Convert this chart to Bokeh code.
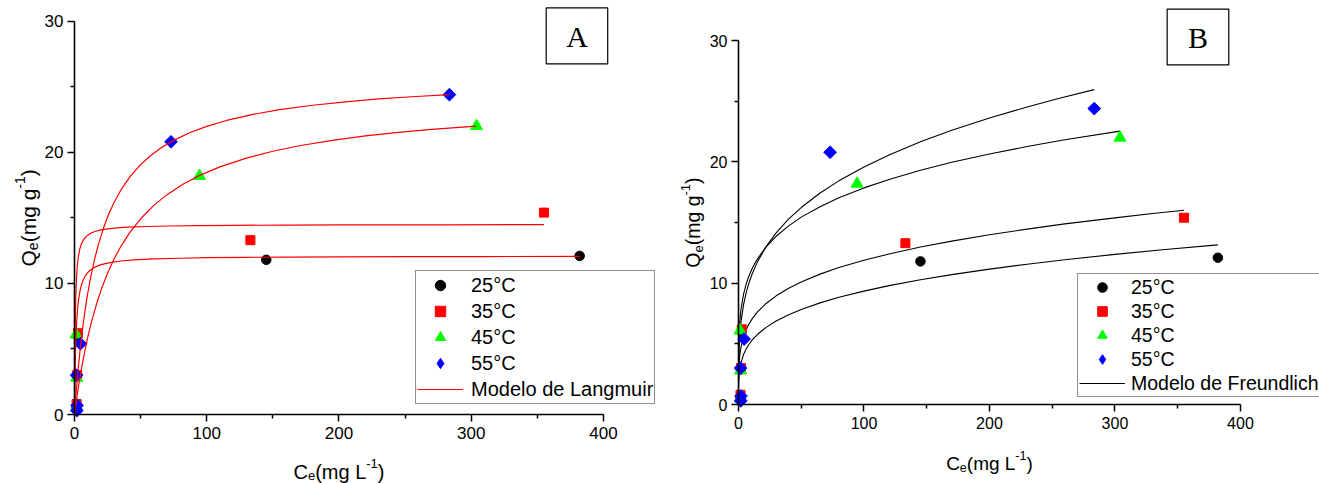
from bokeh.plotting import figure
from bokeh.layouts import row
from bokeh.models import Range1d, Legend, LegendItem, BoxAnnotation, Label, FixedTicker
from bokeh.embed import file_html
from bokeh.resources import INLINE
import math

# ---------------- data ----------------
series_labels = ["25°C", "35°C", "45°C", "55°C"]

ce_25 = [1.5, 1.8, 2.2, 145, 382]
qe_25 = [0.5, 2.9, 6.0, 11.8, 12.1]
ce_35 = [1.6, 2.0, 2.6, 133, 355]
qe_35 = [0.8, 3.0, 6.2, 13.3, 15.4]
ce_45 = [1.4, 1.7, 1.2, 94.5, 304]
qe_45 = [0.5, 2.8, 6.1, 18.2, 22.0]
ce_55 = [1.8, 2.0, 1.6, 4.5, 73, 283.5]
qe_55 = [0.3, 0.7, 3.0, 5.4, 20.8, 24.4]

# Langmuir model curves
lang_x_25 = [0, 0.15, 0.3, 0.5, 0.7, 0.95, 1.2, 1.6, 2, 2.5, 3, 4, 5, 6.5, 8, 10, 12, 15, 20, 27, 35, 45, 60, 80, 100, 130, 160, 200, 250, 310, 382]
lang_y_25 = [0, 1.36, 2.45, 3.60, 4.51, 5.40, 6.10, 6.96, 7.61, 8.22, 8.68, 9.34, 9.79, 10.24, 10.54, 10.82, 11.02, 11.22, 11.43, 11.59, 11.71, 11.79, 11.87, 11.92, 11.96, 11.99, 12.01, 12.03, 12.04, 12.05, 12.06]
lang_x_35 = [0, 0.1, 0.2, 0.35, 0.5, 0.7, 1, 1.3, 1.6, 2, 2.5, 3, 4, 5, 6.5, 8, 10, 13, 16, 20, 25, 32, 40, 55, 70, 95, 120, 160, 200, 280, 355]
lang_y_35 = [0, 2.07, 3.63, 5.34, 6.59, 7.81, 9.06, 9.92, 10.55, 11.15, 11.69, 12.08, 12.61, 12.95, 13.27, 13.49, 13.68, 13.86, 13.98, 14.08, 14.16, 14.23, 14.29, 14.34, 14.38, 14.41, 14.43, 14.45, 14.46, 14.47, 14.48]
lang_x_45 = [0, 1, 2, 3.5, 5, 7.5, 10, 13, 17, 21, 25, 30, 35, 42, 50, 60, 70, 82, 95, 110, 130, 150, 170, 195, 220, 245, 270, 304]
lang_y_45 = [0, 0.75, 1.46, 2.44, 3.34, 4.69, 5.88, 7.12, 8.54, 9.75, 10.78, 11.88, 12.81, 13.91, 14.93, 15.95, 16.77, 17.57, 18.26, 18.89, 19.56, 20.08, 20.50, 20.91, 21.25, 21.52, 21.75, 22.00]
lang_x_55 = [0, 0.5, 1, 2, 3, 4.5, 6, 8, 10, 12.5, 15, 18, 22, 26, 30, 35, 42, 50, 57, 65, 75, 87, 100, 115, 135, 155, 180, 205, 230, 255, 283.5]
lang_y_55 = [0, 0.70, 1.36, 2.58, 3.69, 5.17, 6.46, 7.96, 9.24, 10.60, 11.76, 12.94, 14.24, 15.31, 16.19, 17.11, 18.14, 19.06, 19.70, 20.31, 20.91, 21.49, 21.98, 22.43, 22.89, 23.25, 23.59, 23.85, 24.07, 24.24, 24.40]

# Freundlich model curves
frd_x_25 = [0.05, 0.2, 0.5, 1, 2, 4, 6, 8, 11, 15, 22, 30, 40, 50, 65, 80, 100, 120, 145, 170, 200, 230, 260, 300, 340, 382]
frd_y_25 = [1.35, 1.92, 2.42, 2.89, 3.45, 4.12, 4.56, 4.91, 5.33, 5.77, 6.36, 6.88, 7.40, 7.84, 8.38, 8.84, 9.35, 9.80, 10.28, 10.71, 11.16, 11.57, 11.93, 12.38, 12.78, 13.16]
frd_x_35 = [0.05, 0.2, 0.5, 1, 2, 4, 6, 8, 11, 15, 22, 30, 40, 50, 65, 80, 100, 120, 145, 170, 200, 230, 260, 300, 330, 355]
frd_y_35 = [1.99, 2.76, 3.42, 4.03, 4.74, 5.58, 6.14, 6.57, 7.08, 7.61, 8.33, 8.96, 9.59, 10.10, 10.75, 11.29, 11.89, 12.41, 12.98, 13.47, 14.00, 14.46, 14.89, 15.39, 15.75, 16.02]
frd_x_45 = [0.05, 0.2, 0.5, 1, 2, 4, 6, 8, 11, 15, 22, 30, 40, 50, 65, 80, 100, 120, 145, 170, 200, 230, 260, 304]
frd_y_45 = [3.62, 4.84, 5.87, 6.79, 7.86, 9.08, 9.89, 10.51, 11.24, 11.99, 13.00, 13.87, 14.73, 15.45, 16.31, 17.04, 17.86, 18.55, 19.31, 19.97, 20.66, 21.27, 21.83, 22.54]
frd_x_55 = [0.05, 0.2, 0.5, 1, 2, 4, 6, 8, 11, 15, 22, 30, 40, 50, 65, 80, 100, 120, 145, 170, 200, 230, 255, 283.5]
frd_y_55 = [2.52, 3.66, 4.69, 5.65, 6.81, 8.21, 9.17, 9.90, 10.80, 11.74, 13.02, 14.15, 15.30, 16.24, 17.44, 18.44, 19.59, 20.57, 21.66, 22.62, 23.63, 24.53, 25.23, 25.96]

x_ticks = [0, 100, 200, 300, 400]
x_minor = [50, 150, 250, 350]
y_ticks = [0, 10, 20, 30]
y_minor = [5, 15, 25]

FONT = "Liberation Sans"
# approximate advance widths (em) of Liberation Sans, used to lay out sub/superscripts
CHAR_W = {"Q": 0.778, "C": 0.722, "e": 0.556, "(": 0.333, ")": 0.333, "m": 0.833,
          "g": 0.556, " ": 0.278, "L": 0.556, "-": 0.333, "1": 0.556}


def text_width(s, fs):
    return sum(CHAR_W.get(c, 0.556) for c in s) * fs


def rich_label(p, pieces, x, y, base_off, fs_main, fs_small, vertical, sub=5, sup=8):
    """pieces: list of (text, kind) with kind 'n', 'sub', 'sup'."""
    widths = [text_width(t, fs_small if k != "n" else fs_main) for t, k in pieces]
    total = sum(widths)
    pos = -total / 2.0
    for (t, k), w in zip(pieces, widths):
        fs = fs_main if k == "n" else fs_small
        shift = {"n": 0, "sub": -sub, "sup": sup}[k]
        if vertical:
            lab = Label(x=x, y=y, x_offset=base_off - shift, y_offset=pos, text=t, angle=math.pi / 2,
                        text_font=FONT, text_font_size=f"{fs}px", text_color="black",
                        text_align="left", text_baseline="alphabetic")
        else:
            lab = Label(x=x, y=y, x_offset=pos, y_offset=base_off + shift, text=t,
                        text_font=FONT, text_font_size=f"{fs}px", text_color="black",
                        text_align="left", text_baseline="alphabetic")
        p.add_layout(lab)
        pos += w


def style_axes(p, tick_fs):
    p.xgrid.visible = False
    p.ygrid.visible = False
    p.outline_line_color = None
    p.background_fill_color = "white"
    p.border_fill_color = "white"
    p.xaxis.ticker = FixedTicker(ticks=x_ticks, minor_ticks=x_minor)
    p.yaxis.ticker = FixedTicker(ticks=y_ticks, minor_ticks=y_minor)
    p.xaxis.bounds = (0, 400)
    p.yaxis.bounds = (0, 30)
    p.xaxis.fixed_location = 0
    p.yaxis.fixed_location = 0
    p.xaxis.major_label_standoff = 5
    p.yaxis.major_label_standoff = 4
    for ax in (p.xaxis[0], p.yaxis[0]):
        ax.axis_line_color = "black"
        ax.axis_line_width = 1.6
        ax.major_tick_line_color = "black"
        ax.major_tick_line_width = 1.5
        ax.minor_tick_line_color = "black"
        ax.minor_tick_line_width = 1.5
        ax.major_tick_in = 0
        ax.major_tick_out = 7
        ax.minor_tick_in = 0
        ax.minor_tick_out = 4
        ax.major_label_text_font = FONT
        ax.major_label_text_font_size = tick_fs
        ax.major_label_text_color = "black"


def add_points(p):
    r25 = p.scatter(ce_25, qe_25, marker="circle", size=9.5, color="black")
    r35 = p.scatter(ce_35, qe_35, marker="square", size=9, color="#FF0000")
    r45 = p.scatter(ce_45, qe_45, marker="triangle", size=12, color="#00FF00")
    r55_leg = p.scatter(ce_55, qe_55, marker="diamond", size=10, color="#0000FF")
    p.scatter(ce_55, qe_55, marker="square", size=9, angle=math.pi / 4, color="#0000FF")
    return [r25, r35, r45, r55_leg]


Q_PIECES = [("Q", "n"), ("e", "sub"), ("(mg g", "n"), ("-1", "sup"), (")", "n")]
C_PIECES = [("C", "n"), ("e", "sub"), ("(mg L", "n"), ("-1", "sup"), (")", "n")]

# ---------------- Panel A ----------------
# the frame fills the whole canvas; axes are pinned at x=0 / y=0
pA = figure(width=665, height=483, x_range=Range1d(-55.95, 446.9), y_range=Range1d(-5.263, 31.58),
            min_border=0, output_backend="svg", toolbar_location=None)
style_axes(pA, "17px")
ptsA = add_points(pA)
lineA = None
for xs, ys in [(lang_x_25, lang_y_25), (lang_x_35, lang_y_35), (lang_x_45, lang_y_45), (lang_x_55, lang_y_55)]:
    r = pA.line(xs, ys, line_color="#FF0000", line_width=1.2)
    if lineA is None:
        lineA = r

rich_label(pA, C_PIECES, 200, 0, -57, 20, 13, False, sub=4)
rich_label(pA, Q_PIECES, 0, 15, -46, 21, 14, True)

itemsA = [LegendItem(label=lab, renderers=[r]) for lab, r in zip(series_labels, ptsA)]
itemsA.append(LegendItem(label="Modelo de Langmuir", renderers=[lineA]))
legA = Legend(items=itemsA, location=(415, 79), padding=1, spacing=0, margin=0,
              glyph_width=46, glyph_height=26, label_height=26, label_standoff=8,
              label_text_font=FONT, label_text_font_size="20px", label_text_color="black",
              border_line_color="#222222", border_line_width=1.2, background_fill_color="white",
              background_fill_alpha=1.0)
pA.add_layout(legA)

pA.add_layout(BoxAnnotation(left=356.7, right=403.2, bottom=26.75, top=31.02,
                            fill_color=None, fill_alpha=0, line_color="black", line_alpha=1.0,
                            line_width=1.2))
pA.add_layout(Label(x=380, y=28.85, text="A", text_font="Liberation Serif", text_font_size="30px",
                    text_align="center", text_baseline="middle", text_color="black"))

# ---------------- Panel B ----------------
pB = figure(width=654, height=483, x_range=Range1d(-58.17, 463), y_range=Range1d(-6.513, 33.31),
            min_border=0, output_backend="svg", toolbar_location=None)
style_axes(pB, "16px")
lineB = None
for xs, ys in [(frd_x_25, frd_y_25), (frd_x_35, frd_y_35), (frd_x_45, frd_y_45), (frd_x_55, frd_y_55)]:
    r = pB.line(xs, ys, line_color="black", line_width=1.1)
    if lineB is None:
        lineB = r
ptsB = add_points(pB)

rich_label(pB, C_PIECES, 200, 0, -59, 19, 12.5, False, sub=4)
rich_label(pB, Q_PIECES, 0, 15, -45, 19.5, 13, True)

itemsB = [LegendItem(label=lab, renderers=[r]) for lab, r in zip(series_labels, ptsB)]
itemsB.append(LegendItem(label="Modelo de Freundlich", renderers=[lineB]))
legB = Legend(items=itemsB, location=(412, 86), padding=1, spacing=0, margin=0,
              glyph_width=46, glyph_height=24, label_height=24, label_standoff=6,
              label_text_font=FONT, label_text_font_size="19.5px", label_text_color="black",
              border_line_color="#222222", border_line_width=1.2, background_fill_color="white",
              background_fill_alpha=1.0)
pB.add_layout(legB)

pB.add_layout(BoxAnnotation(left=341.6, right=390.7, bottom=28.0, top=32.6,
                            fill_color=None, fill_alpha=0, line_color="black", line_alpha=1.0,
                            line_width=1.2))
pB.add_layout(Label(x=366.2, y=30.3, text="B", text_font="Liberation Serif", text_font_size="30px",
                    text_align="center", text_baseline="middle", text_color="black"))

layout = row(pA, pB)
open("out.html", "w").write(file_html(layout, INLINE))
